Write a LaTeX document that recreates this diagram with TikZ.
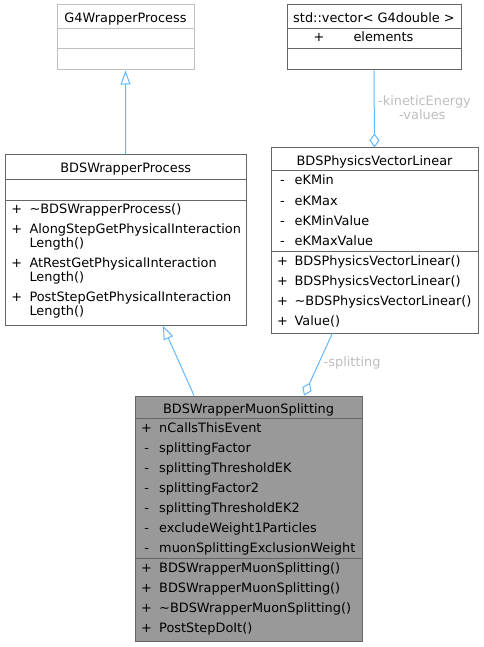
\documentclass[tikz,border=0pt]{standalone}
\usepackage{fontspec}
\setmainfont{DejaVu Sans}
\usetikzlibrary{arrows.meta}
\definecolor{edgeblue}{HTML}{63B8FF}
\definecolor{boxline}{HTML}{666666}
\definecolor{lightline}{HTML}{BFBFBF}
\definecolor{muonfill}{HTML}{999999}
\definecolor{labelgray}{HTML}{BEBEBE}
\newcommand{\fsz}{\fontsize{12.9}{14}\selectfont}
\begin{document}
\begin{tikzpicture}[x=1pt,y=-1pt,
  box/.style={draw=boxline,line width=1pt,fill=white,rectangle,inner sep=0pt},
  txt/.style={inner sep=0pt,anchor=base west,font=\fsz},
  sym/.style={inner sep=0pt,anchor=base,font=\fsz},
  ttl/.style={inner sep=0pt,anchor=base,font=\fsz},
  sepline/.style={draw=boxline,line width=1pt},
  inh/.style={draw=edgeblue,line width=1pt,-{Triangle[open,length=14pt,width=10pt]}},
  agg/.style={draw=edgeblue,line width=1pt,-{Diamond[open,length=14pt,width=10pt]}},
  lbl/.style={inner sep=0pt,text=labelgray,font=\fsz}]
\fill[white] (0,0) rectangle (483,647);
\useasboundingbox (0,0) rectangle (483,647);

% G4WrapperProcess
\node[box,draw=lightline,minimum width=137pt,minimum height=65pt] (g4) at (125.5,37.5) {};
\draw[draw=lightline,line width=1pt] (57,29) -- (194,29) (57,49) -- (194,49);
\node[ttl] (g4t) at (125.5,22.5) {G4WrapperProcess};

% std::vector
\node[box,minimum width=174pt,minimum height=65pt] (vec) at (374,37.5) {};
\draw[sepline] (287,29) -- (461,29) (287,49) -- (461,49);
\node[ttl] (vect) at (374,22.5) {std::vector< G4double >};
\node[sym] (vecs1) at (319,42) {+};
\node[txt] (veca1) at (353.3,42) {elements};

% BDSWrapperProcess
\node[box,minimum width=241.5pt,minimum height=170pt] (bwp) at (125.75,240) {};
\draw[sepline] (5,179) -- (246.5,179) (5,200) -- (246.5,200);
\node[ttl] (bwpt) at (125.75,172.7) {BDSWrapperProcess};
\node[sym] (bwps1) at (16.7,213) {+};
\node[txt] (bwpm1) at (29.3,213) {\textasciitilde BDSWrapperProcess()};
\node[sym] (bwps2) at (16.7,233) {+};
\node[txt] (bwpm2) at (29.3,233) {AlongStepGetPhysicalInteraction};
\node[txt] (bwpm2b) at (29.3,247) {Length()};
\node[sym] (bwps3) at (16.7,267.5) {+};
\node[txt] (bwpm3) at (29.3,267.5) {AtRestGetPhysicalInteraction};
\node[txt] (bwpm3b) at (29.3,281.5) {Length()};
\node[sym] (bwps4) at (16.7,301.5) {+};
\node[txt] (bwpm4) at (29.3,301.5) {PostStepGetPhysicalInteraction};
\node[txt] (bwpm4b) at (29.3,315.5) {Length()};

% BDSPhysicsVectorLinear
\node[box,minimum width=207pt,minimum height=185pt] (pvl) at (374.5,240.5) {};
\draw[sepline] (271,171) -- (478,171) (271,251) -- (478,251);
\node[ttl] (pvlt) at (374.5,165.3) {BDSPhysicsVectorLinear};
\foreach \i/\yy/\s/\t in {1/185/-/eKMin, 2/205/-/eKMax, 3/225/-/eKMinValue, 4/245/-/eKMaxValue,
    5/265/+/BDSPhysicsVectorLinear(), 6/285/+/BDSPhysicsVectorLinear(),
    7/305/+/\textasciitilde BDSPhysicsVectorLinear(), 8/325/+/Value()} {
  \node[sym] (pvls\i) at (282.5,\yy) {\s};
  \node[txt] (pvlr\i) at (294.4,\yy) {\t};
}

% BDSWrapperMuonSplitting
\node[box,fill=muonfill,minimum width=227pt,minimum height=245pt] (muon) at (248.5,518.5) {};
\draw[sepline] (135,418) -- (362,418) (135,558) -- (362,558);
\node[ttl] (muont) at (248.5,413.6) {BDSWrapperMuonSplitting};
\foreach \i/\yy/\s/\t in {1/432/+/nCallsThisEvent, 2/452/-/splittingFactor,
    3/472/-/splittingThresholdEK, 4/492/-/splittingFactor2, 5/512/-/splittingThresholdEK2,
    6/532/-/excludeWeight1Particles, 7/552/-/muonSplittingExclusionWeight,
    8/572/+/BDSWrapperMuonSplitting(), 9/592/+/BDSWrapperMuonSplitting(),
    10/612/+/\textasciitilde BDSWrapperMuonSplitting(), 11/632/+/PostStepDoIt()} {
  \node[sym] (muons\i) at (146.6,\yy) {\s};
  \node[txt] (muonr\i) at (159,\yy) {\t};
}

% connectors
\draw[inh] (bwp.north) -- (g4.south);
\draw[inh] ([xshift=-54.5pt]muon.north) -- ([xshift=37pt]bwp.south);
\draw[agg] (vec.south) -- (pvl.north);
\draw[agg] ([xshift=-42.2pt]pvl.south) -- ([xshift=55.5pt]muon.north);

% edge labels
\node[lbl,anchor=base] (lblke) at (424.5,105.5) {-kineticEnergy};
\node[lbl,anchor=base] (lblva) at (422.3,120) {-values};
\node[lbl,anchor=base west] (lblsp) at (323.5,366.5) {-splitting};
\end{tikzpicture}
\end{document}
